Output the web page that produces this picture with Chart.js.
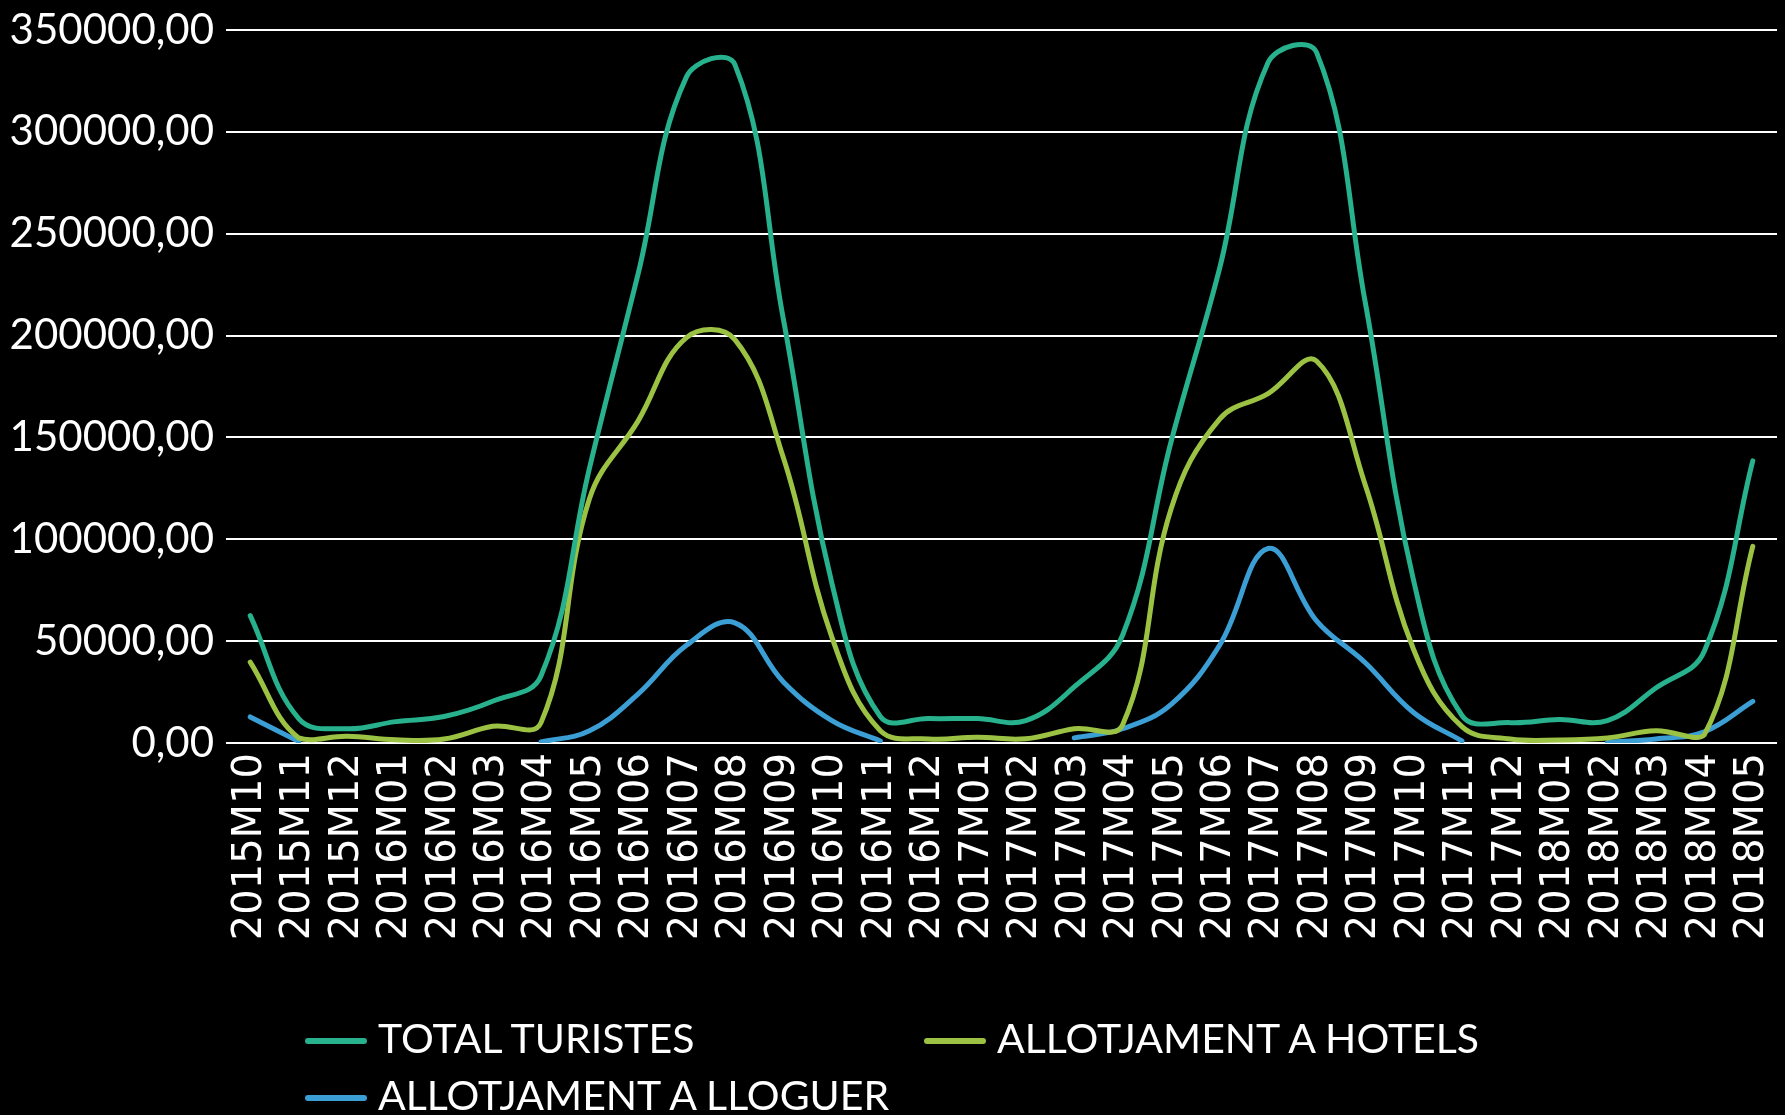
<!DOCTYPE html>
<html>
<head>
<meta charset="utf-8">
<script src="https://cdn.jsdelivr.net/npm/chart.js@4.4.1/dist/chart.umd.min.js"></script>
<style>
  body { margin: 0; background: #000; overflow: hidden; }
  #wrap { position: relative; width: 1785px; height: 1115px; overflow: hidden; }
  .swatch { position: absolute; width: 62px; height: 6px; border-radius: 3px; }
  .ltext { position: absolute; color: #fff; font-family: Lato, sans-serif; font-size: 41px; line-height: 41px; white-space: nowrap; }
</style>
</head>
<body>
<div id="wrap">
  <canvas id="chart" width="1785" height="1115"></canvas>
  <div id="legend"></div>
</div>
<script>
// months on the x axis
var labels = [
  '2015M10','2015M11','2015M12','2016M01','2016M02','2016M03','2016M04','2016M05',
  '2016M06','2016M07','2016M08','2016M09','2016M10','2016M11','2016M12','2017M01',
  '2017M02','2017M03','2017M04','2017M05','2017M06','2017M07','2017M08','2017M09',
  '2017M10','2017M11','2017M12','2018M01','2018M02','2018M03','2018M04','2018M05'
];

var totalTuristes = [
  62500, 12000, 7000, 10500, 13000, 20500, 33000, 135000,
  230000, 327000, 333000, 208000, 78500, 13000, 12000, 12000,
  11000, 27500, 53000, 148000, 233000, 334000, 339000, 217000,
  80000, 13500, 10000, 11500, 11000, 27000, 45000, 138500
];

var hotels = [
  39700, 2500, 3300, 1600, 2000, 8200, 10000, 120000,
  158000, 199000, 198000, 140000, 52000, 6000, 2000, 2800,
  2100, 7000, 9000, 115000, 159000, 171500, 187500, 127000,
  46000, 8000, 2000, 1500, 2500, 6000, 4000, 96500
];

// gaps where there is no data
var lloguer = [
  12800, 800, null, null, null, null, 500, 6000,
  24000, 48000, 59000, 30000, 11000, 1000, null, null,
  null, 2500, 7000, 19000, 48000, 95500, 60000, 39500,
  15000, 1000, null, null, 300, 2000, 5500, 20400
];

var seriesNames = ['TOTAL TURISTES', 'ALLOTJAMENT A HOTELS', 'ALLOTJAMENT A LLOGUER'];
var seriesColors = ['#27b18d', '#9cc243', '#3b9fd5'];

var yMin = 0, yMax = 350000, yStep = 50000;

function makeSet(i, data) {
  return {
    label: seriesNames[i],
    data: data,
    borderColor: seriesColors[i],
    backgroundColor: seriesColors[i],
    borderWidth: 5,
    pointRadius: 0,
    tension: 0.4,
    borderCapStyle: 'round',
    borderJoinStyle: 'round',
    spanGaps: false,
    clip: { left: 5, right: 5, top: 5, bottom: 0 }
  };
}

var ctx = document.getElementById('chart');
var myChart = new Chart(ctx, {
  type: 'line',
  data: {
    labels: labels,
    datasets: [makeSet(0, totalTuristes), makeSet(1, hotels), makeSet(2, lloguer)]
  },
  options: {
    responsive: false,
    animation: false,
    devicePixelRatio: 1,
    layout: { padding: { left: 0, right: 8, top: 30, bottom: 0 } },
    plugins: { legend: { display: false }, tooltip: { enabled: false } },
    scales: {
      x: {
        offset: true,
        grid: { display: false },
        border: { display: false },
        ticks: {
          autoSkip: false,
          minRotation: 90,
          maxRotation: 90,
          padding: 2,
          color: '#ffffff',
          font: { family: 'DejaVu Sans', size: 40 }
        },
        afterFit: function(scale) {
          scale.height = 372;
          scale.paddingLeft = 0;
          scale.paddingRight = 0;
        }
      },
      y: {
        min: yMin,
        max: yMax,
        grid: { color: '#ffffff', lineWidth: 2, drawTicks: false },
        border: { display: false },
        ticks: {
          stepSize: yStep,
          padding: 12,
          color: '#ffffff',
          font: { family: 'Lato', size: 42 },
          callback: function(v) { return v.toFixed(2).replace('.', ','); }
        },
        afterFit: function(scale) {
          scale.width = 226;
          scale.paddingTop = 0;
          scale.paddingBottom = 0;
        }
      }
    }
  }
});

// legend laid out in two columns like the original
var legendPos = [
  { line: [305, 1038], text: [378, 1017] },
  { line: [924, 1038], text: [997, 1017] },
  { line: [305, 1095], text: [378, 1074] }
];
var legend = document.getElementById('legend');
seriesNames.forEach(function(name, i) {
  var sw = document.createElement('div');
  sw.className = 'swatch';
  sw.style.left = legendPos[i].line[0] + 'px';
  sw.style.top = legendPos[i].line[1] + 'px';
  sw.style.background = seriesColors[i];
  legend.appendChild(sw);
  var t = document.createElement('div');
  t.className = 'ltext';
  t.style.left = legendPos[i].text[0] + 'px';
  t.style.top = legendPos[i].text[1] + 'px';
  t.innerText = name;
  legend.appendChild(t);
});
</script>
</body>
</html>
